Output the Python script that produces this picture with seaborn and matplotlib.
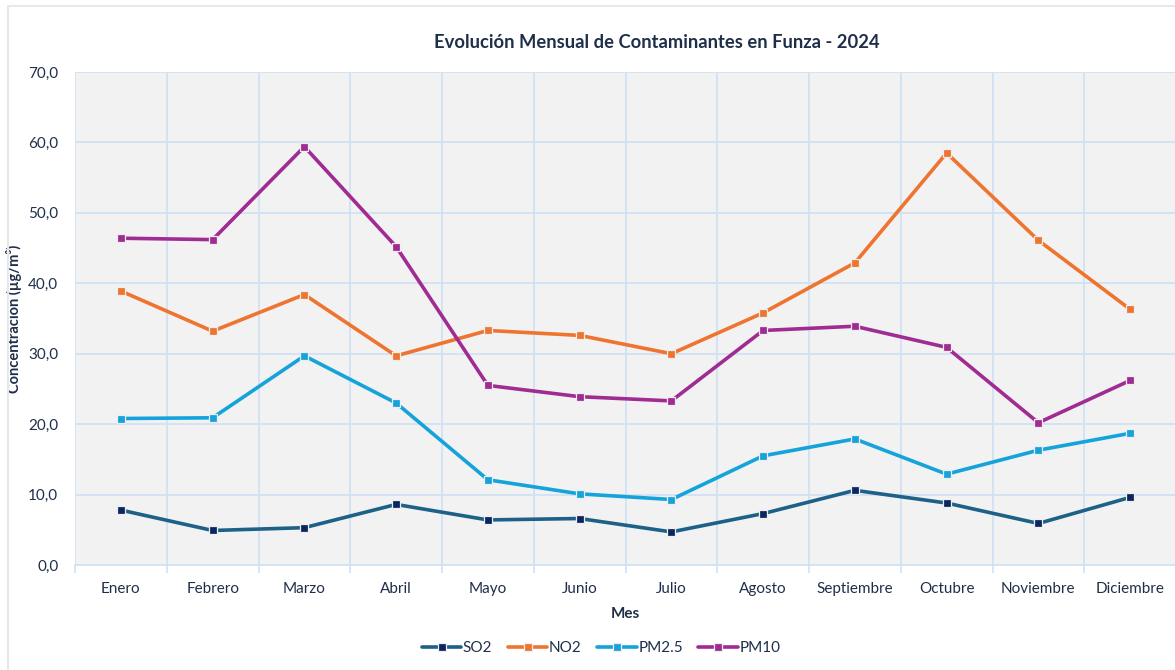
import matplotlib
matplotlib.use("Agg")
import matplotlib.pyplot as plt
import matplotlib.patches as mpatches
from matplotlib.ticker import FuncFormatter, FixedLocator
import pandas as pd
import seaborn as sns

meses = ["Enero", "Febrero", "Marzo", "Abril", "Mayo", "Junio", "Julio",
         "Agosto", "Septiembre", "Octubre", "Noviembre", "Diciembre"]
so2 = [7.8, 4.9, 5.3, 8.6, 6.4, 6.6, 4.7, 7.3, 10.6, 8.8, 5.9, 9.6]
no2 = [38.9, 33.2, 38.4, 29.7, 33.3, 32.6, 30.0, 35.8, 42.9, 58.5, 46.1, 36.3]
pm25 = [20.8, 20.9, 29.7, 23.0, 12.1, 10.1, 9.3, 15.5, 17.9, 12.9, 16.3, 18.7]
pm10 = [46.4, 46.2, 59.4, 45.2, 25.5, 23.9, 23.3, 33.3, 33.9, 30.9, 20.2, 26.2]

series = {"SO2": so2, "NO2": no2, "PM2.5": pm25, "PM10": pm10}
line_colors = {"SO2": "#1d6088", "NO2": "#ee7430", "PM2.5": "#14a3da", "PM10": "#a02b93"}
marker_colors = {"SO2": "#0b2560", "NO2": "#ee7430", "PM2.5": "#14a3da", "PM10": "#a02b93"}

sns.set_theme(style="white")
plt.rcParams["font.family"] = ["Lato", "DejaVu Sans"]
text_color = "#1f2f4a"
grid_color = "#cfe1f4"

fig = plt.figure(figsize=(11.75, 6.7), dpi=100)
ax = fig.add_axes([75 / 1175, 105 / 670, 1101 / 1175, 493 / 670])
ax.set_facecolor("#f2f2f2")

# outer chart frame
fig.patches.append(mpatches.Rectangle((8 / 1175, -0.05), 1.2, (664 + 34) / 670,
                                      transform=fig.transFigure, fill=False,
                                      edgecolor="#e8e8e8", linewidth=1.5))

for name, vals in series.items():
    df = pd.DataFrame({"Mes": meses, "valor": vals})
    sns.lineplot(data=df, x="Mes", y="valor", ax=ax, sort=False,
                 color=line_colors[name], linewidth=2.6, marker="s",
                 markersize=6, markerfacecolor=marker_colors[name],
                 markeredgecolor="#eeeeee", markeredgewidth=0.9, label=name)

ax.set_xlim(-0.5, 11.5)
ax.set_ylim(0, 70)
ax.set_yticks(range(0, 71, 10))
ax.yaxis.set_major_formatter(FuncFormatter(lambda v, p: f"{v:.1f}".replace(".", ",")))
ax.xaxis.set_minor_locator(FixedLocator([i - 0.5 for i in range(13)]))
ax.grid(False)
for y in range(10, 71, 10):
    ax.axhline(y, color=grid_color, linewidth=1.2, zorder=0)
for x in range(13):
    ax.axvline(x - 0.5, color=grid_color, linewidth=1.2, zorder=0)

for s in ["top", "right", "left"]:
    ax.spines[s].set_visible(False)
ax.spines["bottom"].set_color(grid_color)
ax.spines["bottom"].set_linewidth(1.2)

ax.tick_params(axis="x", which="major", length=0, pad=12, labelsize=11, labelcolor=text_color)
ax.tick_params(axis="x", which="minor", length=6, width=1.2, color=grid_color, bottom=True)
ax.tick_params(axis="y", length=0, pad=12, labelsize=11, labelcolor=text_color)

ax.set_xlabel("Mes", fontsize=11, fontweight="bold", color=text_color, labelpad=8)
ax.set_ylabel("Concentración (µg/m³)", fontsize=10.5, fontweight="bold",
              color=text_color)
ax.yaxis.set_label_coords(-0.048, 0.5)

fig.text(657 / 1175, 1 - 42 / 670, "Evolución Mensual de Contaminantes en Funza - 2024",
         ha="center", va="center", fontsize=13.2, fontweight="bold", color=text_color)

ax.legend(loc="center", bbox_to_anchor=(601 / 1175, 1 - 648 / 670),
          bbox_transform=fig.transFigure, ncol=4, frameon=False,
          fontsize=11, labelcolor=text_color, handlelength=2.6,
          handletextpad=0.1, columnspacing=1.0)

fig.savefig("out.png", dpi=100)
